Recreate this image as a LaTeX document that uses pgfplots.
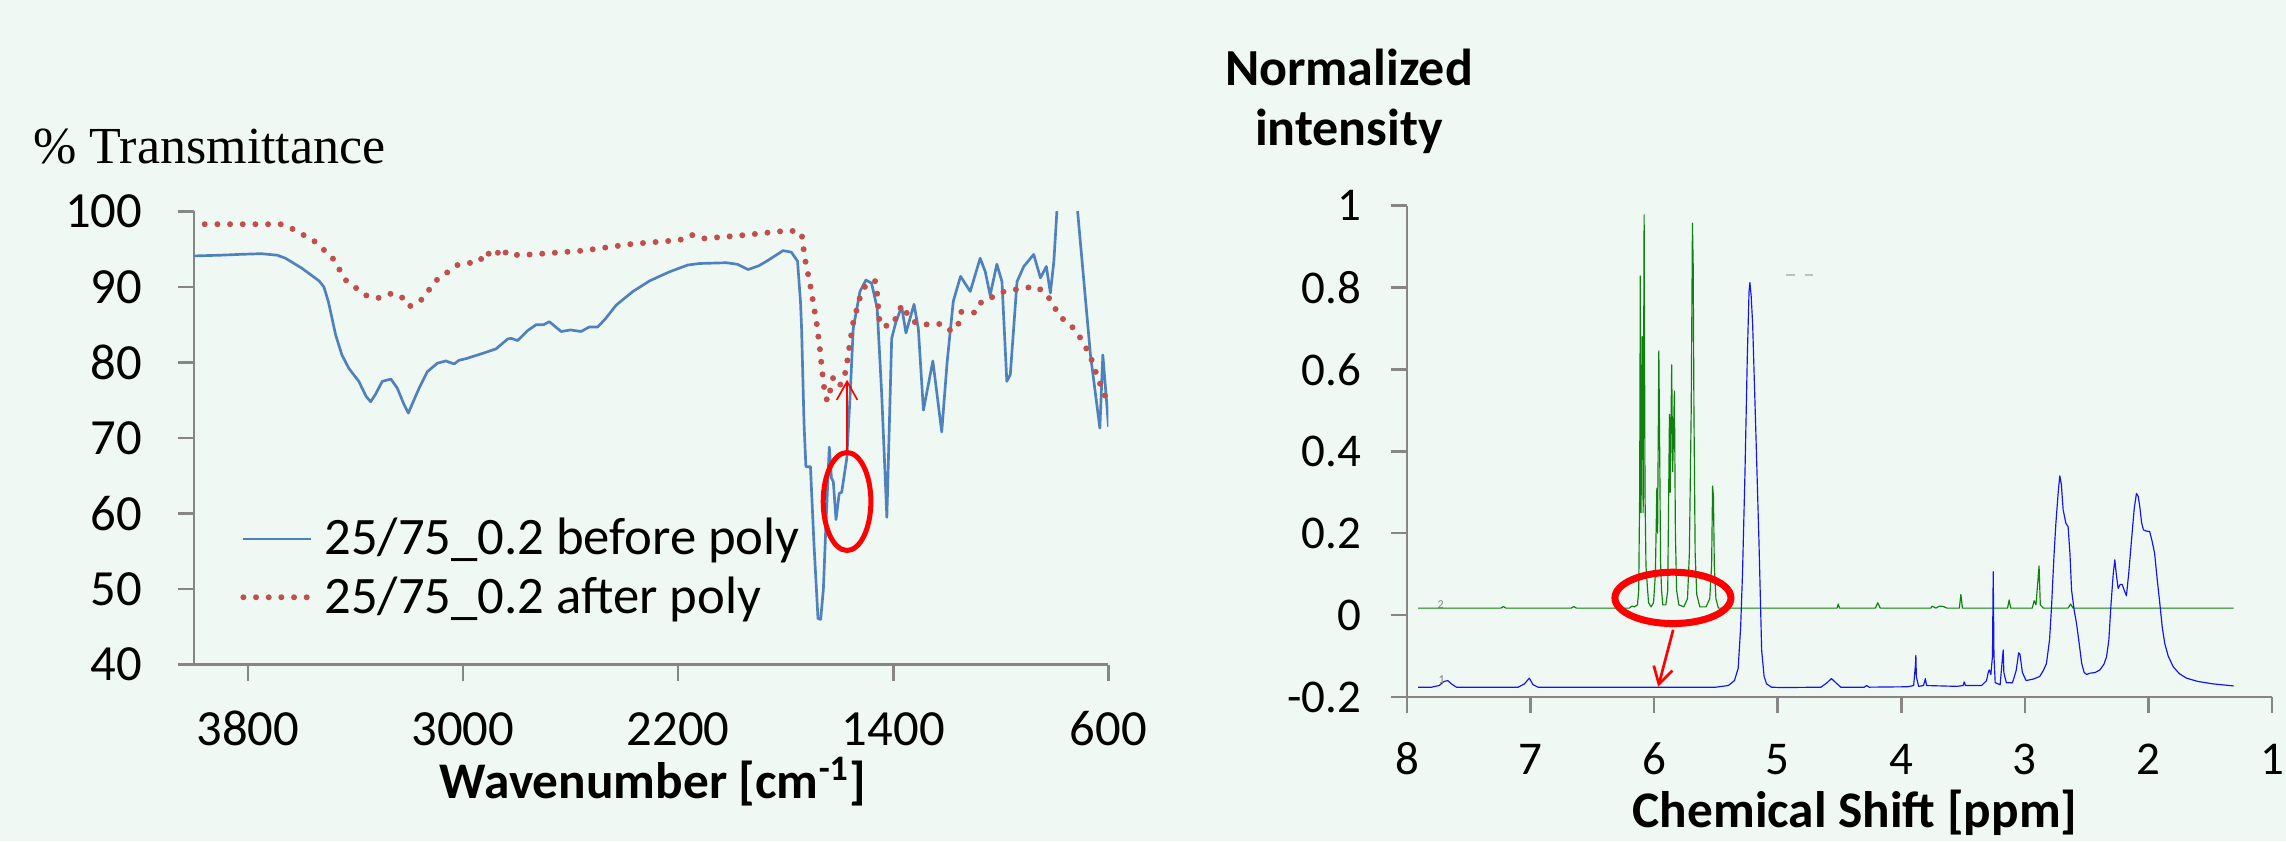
\documentclass[border=0pt]{standalone}
\usepackage{fontspec}
\setmainfont{Carlito}
\newfontfamily\timesfont{Liberation Serif}
\usepackage{pgfplots}
\pgfplotsset{compat=1.18}
\usetikzlibrary{arrows.meta}
\definecolor{bgmint}{RGB}{239,248,243}
\definecolor{xlblue}{RGB}{79,129,189}
\definecolor{xlred}{RGB}{192,80,77}
\definecolor{axgray}{RGB}{134,134,134}
\definecolor{nmrgreen}{RGB}{16,128,16}
\definecolor{nmrblue}{RGB}{20,20,240}
\begin{document}
\begin{tikzpicture}
\fill[bgmint] (0,0) rectangle (685.8pt,252.3pt);
\path[use as bounding box] (0,0) rectangle (685.8pt,252.3pt);

% ---------------- IR spectrum ----------------
\begin{axis}[
  at={(58.2pt,52.9pt)}, anchor=south west, scale only axis,
  width=274.35pt, height=136pt,
  xmin=600, xmax=4000, x dir=reverse, ymin=40, ymax=100,
  axis lines=left, axis line style={-, draw=axgray, line width=0.75pt},
  tick style={draw=axgray, line width=0.75pt}, major tick length=4.8pt, tick align=outside,
  xtick={3800,3000,2200,1400,600}, xticklabels={3800,3000,2200,1400,600},
  ytick={40,50,60,70,80,90,100}, yticklabels={40,50,60,70,80,90,100},
  xticklabel style={font=\fontsize{15.2}{18}\selectfont, anchor=base, inner sep=0pt, yshift=-19.5pt},
  yticklabel style={font=\fontsize{15.2}{18}\selectfont, anchor=east, inner sep=0pt, xshift=-10.5pt},
  xlabel={\bfseries Wavenumber [cm\smash{\textsuperscript{-1}}]},
  xlabel style={font=\fontsize{15.4}{18}\selectfont, at={(axis description cs:0.502,-0.295)}, anchor=base, inner sep=0pt},
  legend cell align=left,
  legend style={draw=none, fill=none, at={(axis description cs:0.05,0.3245)}, anchor=north west,
    inner sep=0pt, row sep=5pt, column sep=3pt, font=\fontsize{15.8}{18}\selectfont,
    nodes={inner sep=0pt}},
  legend image code/.code={\draw[#1] (0pt,0pt) -- (20.4pt,0pt);},
]
\addplot[xlblue, line width=0.8pt, line join=round] coordinates {
(4000,94.1) (3900,94.2) (3834,94.3) (3750,94.4) (3691,94.2) (3660,93.8) (3600,92.5)
(3535,90.8) (3517,90.0) (3500,88.0) (3473,83.6) (3450,81.0) (3424,79.2) (3387,77.5)
(3360,75.5) (3343,74.8) (3325,75.8) (3300,77.5) (3268,77.8) (3244,76.6) (3220,74.5)
(3203,73.3) (3185,74.8) (3163,76.6) (3132,78.8) (3095,79.9) (3064,80.2) (3033,79.8)
(3014,80.3) (2989,80.5) (2927,81.2) (2877,81.8) (2834,83.1) (2821,83.2) (2797,82.9)
(2760,84.2) (2728,85.0) (2700,85.0) (2679,85.4) (2635,84.1) (2600,84.3) (2561,84.1)
(2530,84.7) (2499,84.7) (2470,85.8) (2430,87.6) (2368,89.4) (2306,90.8) (2232,92.0)
(2164,92.9) (2120,93.1) (2021,93.2) (1980,93.0) (1940,92.3) (1900,92.8) (1871,93.4)
(1810,94.8) (1779,94.6) (1756,93.4) (1745,88.0) (1741,84.5) (1732,72.0) (1725,66.2)
(1708,66.2) (1695,56.0) (1680,46.1) (1670,46.0) (1660,50.0) (1651,58.1) (1638,68.8)
(1630,64.7) (1623,64.2) (1613,59.2) (1601,62.7) (1592,62.8) (1573,67.3) (1560,76.0)
(1549,84.5) (1524,89.4) (1502,90.9) (1481,90.5) (1460,87.2) (1443,75.7) (1424,59.5)
(1406,83.2) (1390,85.4) (1369,87.4) (1353,83.9) (1323,87.7) (1307,84.5) (1288,73.7)
(1253,80.2) (1220,70.8) (1200,80.0) (1177,88.1) (1150,91.4) (1114,89.4) (1077,93.8)
(1058,92.0) (1040,88.9) (1015,93.0) (996,90.7) (978,77.5) (965,78.4) (940,90.7)
(915,92.7) (878,94.3) (853,91.2) (831,92.7) (816,89.2) (803,93.4) (791,100.5)
(760,106) (716,100.5) (667,81.0) (632,71.3) (621,81.0) (607,74.8) (600,71.5)
};
\addlegendentry{25/75\_0.2 before poly}
\addplot[xlred, line width=1.8pt, line cap=round, dash pattern=on 0pt off 3.8pt] coordinates {
(3960,98.3) (3678,98.3) (3635,97.7) (3554,96.1) (3486,93.9) (3436,90.9) (3362,88.9)
(3318,88.5) (3272,89.1) (3231,88.8) (3200,87.4) (3157,88.2) (3098,90.9) (3020,92.9)
(2937,93.4) (2917,94.7) (2884,93.9) (2855,95.2) (2834,94.2) (2741,94.3) (2555,94.8)
(2368,95.7) (2194,96.2) (2151,96.9) (2108,96.4) (1971,96.8) (1834,97.3) (1785,97.5)
(1741,97.1) (1729,93.8) (1709,90.3) (1685,85.2) (1673,81.8) (1663,78.4) (1657,76.6)
(1646,74.9) (1633,76.5) (1623,78.1) (1598,77.0) (1580,78.4) (1571,80.2) (1564,81.9)
(1549,85.3) (1536,87.0) (1524,88.6) (1502,90.3) (1468,90.8) (1460,89.1) (1456,87.4)
(1452,85.7) (1440,84.7) (1396,85.2) (1385,86.8) (1362,87.6) (1344,86.0) (1307,85.0)
(1220,85.1) (1182,84.1) (1158,85.1) (1149,86.7) (1096,86.6) (1071,88.1) (1040,88.5)
(999,89.3) (909,89.9) (866,90.0) (829,89.0) (804,87.5) (779,86.0) (744,85.1)
(714,83.8) (689,82.3) (667,80.8) (652,79.2) (636,77.6) (618,76.0) (600,74.6)
};
\addlegendentry{25/75\_0.2 after poly}
\draw[red, line width=1.5pt] (axis cs:1572,61.6) ellipse [x radius=7.15pt, y radius=14.7pt];
\draw[red, line width=0.5pt, -{Straight Barb[length=5.5pt,width=6.2pt]}] (axis cs:1572,68.2) -- (axis cs:1572,77.7);
\end{axis}

\node[anchor=base west, inner sep=0pt, font=\timesfont\fontsize{15.6}{18}\selectfont] at (9.9pt,203.1pt) {\% Transmittance};

% ---------------- NMR spectrum ----------------
\begin{axis}[
  at={(422.1pt,43.2pt)}, anchor=south west, scale only axis,
  width=259.5pt, height=147.45pt,
  xmin=1, xmax=8, x dir=reverse, ymin=-0.2, ymax=1,
  axis lines=left, axis line style={-, draw=axgray, line width=0.75pt},
  tick style={draw=axgray, line width=0.75pt}, major tick length=4.8pt, tick align=outside,
  xtick={1,2,3,4,5,6,7,8}, xticklabels={1,2,3,4,5,6,7,8},
  ytick={-0.2,0,0.2,0.4,0.6,0.8,1}, yticklabels={-0.2,0,0.2,0.4,0.6,0.8,1},
  xticklabel style={font=\fontsize{14.1}{17}\selectfont, anchor=base, inner sep=0pt, yshift=-18.3pt},
  yticklabel style={font=\fontsize{14.1}{17}\selectfont, anchor=east, inner sep=0pt, xshift=-8.8pt},
  xlabel={\bfseries Chemical Shift [ppm]},
  xlabel style={font=\fontsize{15.4}{18}\selectfont, at={(axis description cs:0.518,-0.2645)}, anchor=base, inner sep=0pt},
]
\addplot[nmrgreen, line width=0.35pt, line join=round] coordinates {
(7.91,0.017) (7.24,0.017) (7.22,0.021) (7.20,0.017) (6.67,0.017) (6.65,0.021) (6.63,0.017)
(6.20,0.017) (6.18,0.022) (6.16,0.020) (6.135,0.025) (6.125,0.06) (6.117,0.30) (6.112,0.828)
(6.106,0.25) (6.096,0.68) (6.089,0.25) (6.081,0.977) (6.074,0.30) (6.066,0.12) (6.055,0.07)
(6.045,0.03) (6.025,0.02) (6.005,0.03) (5.99,0.10) (5.978,0.31) (5.972,0.20) (5.962,0.645)
(5.955,0.40) (5.948,0.13) (5.940,0.06) (5.930,0.025) (5.905,0.025) (5.89,0.06) (5.876,0.49)
(5.870,0.30) (5.858,0.611) (5.850,0.35) (5.836,0.547) (5.828,0.20) (5.818,0.06) (5.80,0.025)
(5.76,0.02) (5.73,0.04) (5.715,0.15) (5.70,0.50) (5.690,0.957) (5.684,0.855) (5.678,0.50)
(5.668,0.15) (5.655,0.05) (5.63,0.02) (5.58,0.02) (5.55,0.04) (5.535,0.12) (5.527,0.315)
(5.520,0.29) (5.513,0.12) (5.50,0.04) (5.48,0.017) (4.52,0.017) (4.51,0.027) (4.50,0.017)
(4.21,0.017) (4.19,0.030) (4.17,0.017) (3.76,0.017) (3.75,0.022) (3.72,0.017) (3.69,0.022)
(3.66,0.021) (3.63,0.017) (3.53,0.017) (3.518,0.05) (3.505,0.017) (3.14,0.017) (3.127,0.037)
(3.115,0.017) (2.94,0.017) (2.925,0.035) (2.91,0.025) (2.885,0.12) (2.875,0.025) (2.85,0.017)
(2.65,0.017) (2.63,0.027) (2.61,0.017) (1.31,0.017)
};
\addplot[nmrblue, line width=0.35pt, line join=round] coordinates {
(7.91,-0.176) (7.80,-0.176) (7.74,-0.172) (7.70,-0.162) (7.67,-0.160) (7.64,-0.168) (7.60,-0.176)
(7.10,-0.176) (7.05,-0.168) (7.01,-0.154) (6.98,-0.170) (6.94,-0.176) (5.50,-0.176) (5.40,-0.172)
(5.35,-0.160) (5.32,-0.13) (5.30,-0.03) (5.285,0.10) (5.265,0.346) (5.246,0.631) (5.232,0.79)
(5.225,0.812) (5.215,0.78) (5.203,0.712) (5.179,0.468) (5.152,0.183) (5.13,-0.085) (5.11,-0.15)
(5.09,-0.168) (5.05,-0.176) (4.97,-0.177) (4.65,-0.176) (4.60,-0.165) (4.565,-0.155) (4.53,-0.165)
(4.49,-0.176) (4.30,-0.176) (4.28,-0.172) (4.26,-0.176) (3.95,-0.175) (3.90,-0.172) (3.885,-0.12)
(3.882,-0.098) (3.878,-0.15) (3.86,-0.174) (3.82,-0.172) (3.805,-0.155) (3.795,-0.172) (3.55,-0.174)
(3.50,-0.172) (3.49,-0.163) (3.48,-0.172) (3.35,-0.172) (3.31,-0.16) (3.295,-0.138) (3.288,-0.134)
(3.275,-0.145) (3.262,-0.10) (3.256,0.106) (3.250,-0.10) (3.24,-0.165) (3.20,-0.170) (3.18,-0.10)
(3.175,-0.085) (3.17,-0.14) (3.15,-0.165) (3.10,-0.165) (3.07,-0.135) (3.05,-0.092) (3.04,-0.095)
(3.02,-0.14) (2.99,-0.160) (2.93,-0.156) (2.88,-0.150) (2.85,-0.135) (2.825,-0.118) (2.80,-0.06)
(2.784,0.021) (2.765,0.14) (2.749,0.224) (2.73,0.30) (2.717,0.340) (2.705,0.32) (2.69,0.257)
(2.668,0.224) (2.65,0.216) (2.635,0.15) (2.622,0.061) (2.60,0.01) (2.582,-0.020) (2.56,-0.07)
(2.54,-0.118) (2.52,-0.14) (2.50,-0.145) (2.474,-0.142) (2.43,-0.14) (2.393,-0.134) (2.36,-0.12)
(2.339,-0.102) (2.32,-0.06) (2.304,0.021) (2.285,0.10) (2.272,0.135) (2.26,0.10) (2.245,0.065)
(2.228,0.075) (2.213,0.075) (2.195,0.06) (2.178,0.047) (2.16,0.10) (2.137,0.183) (2.115,0.26)
(2.097,0.297) (2.083,0.29) (2.070,0.265) (2.055,0.225) (2.04,0.208) (2.015,0.205) (1.99,0.204)
(1.97,0.18) (1.95,0.151) (1.93,0.09) (1.908,0.029) (1.888,-0.03) (1.868,-0.069) (1.84,-0.10)
(1.80,-0.126) (1.75,-0.143) (1.692,-0.154) (1.60,-0.162) (1.476,-0.168) (1.31,-0.173)
};
\node[gray, font=\fontsize{3.6}{4}\selectfont, inner sep=0pt] at (axis cs:7.727,0.026) {2};
\node[gray, font=\fontsize{3.6}{4}\selectfont, inner sep=0pt] at (axis cs:7.72,-0.157) {1};
\draw[gray!50, line width=0.6pt] (axis cs:4.93,0.83) -- ++(2.5pt,0pt);
\draw[gray!50, line width=0.6pt] (axis cs:4.78,0.83) -- ++(2.5pt,0pt);
\draw[red, line width=2.1pt] (axis cs:5.848,0.042) ellipse [x radius=17.4pt, y radius=7.7pt];
\draw[red, line width=0.8pt, -{Straight Barb[length=5pt,width=5.8pt]}] (axis cs:5.846,-0.036) -- (axis cs:5.967,-0.175);
\end{axis}

\node[anchor=base, inner sep=0pt, font=\bfseries\fontsize{15.6}{18}\selectfont] at (404.7pt,226.5pt) {Normalized};
\node[anchor=base, inner sep=0pt, font=\bfseries\fontsize{15.6}{18}\selectfont] at (404.7pt,208.5pt) {intensity};
\end{tikzpicture}
\end{document}
